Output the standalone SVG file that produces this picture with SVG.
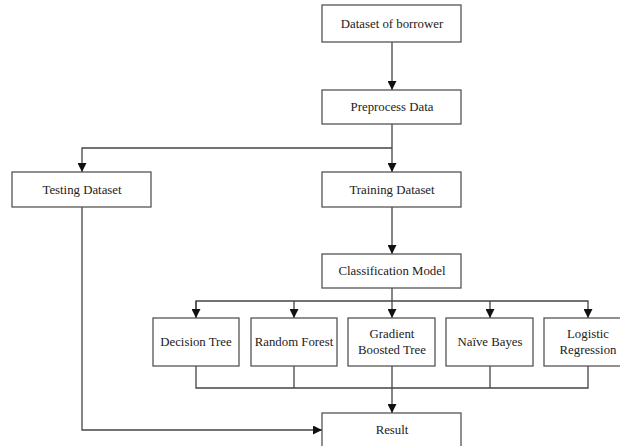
<svg xmlns="http://www.w3.org/2000/svg" width="620" height="446" viewBox="0 0 620 446">
<defs>
<marker id="ah" markerWidth="9" markerHeight="9" refX="9" refY="4.5" orient="auto" markerUnits="userSpaceOnUse">
<path d="M0,0 L9,4.5 L0,9 Z" fill="#111"/>
</marker>
<style>
.box{fill:#fff;stroke:#555;stroke-width:1.3}
.t{font-family:"Liberation Serif","Times New Roman",serif;font-size:12.8px;fill:#222;text-anchor:middle;dominant-baseline:central}
.c{fill:none;stroke:#444;stroke-width:1.3}
</style>
</defs>
<rect width="620" height="446" fill="#fff"/>
<g id="connectors">
<path class="c" d="M392,42 V90" marker-end="url(#ah)"/>
<path class="c" d="M392,124 V172" marker-end="url(#ah)"/>
<path class="c" d="M392,148 H82 V172" marker-end="url(#ah)"/>
<path class="c" d="M392,207 V254" marker-end="url(#ah)"/>
<path class="c" d="M392,288 V318" marker-end="url(#ah)"/>
<path class="c" d="M196,318 V301 H588 V318" marker-end="url(#ah)"/>
<path class="c" d="M196,301 V318" marker-end="url(#ah)"/>
<path class="c" d="M294,301 V318" marker-end="url(#ah)"/>
<path class="c" d="M490,301 V318" marker-end="url(#ah)"/>
<path class="c" d="M196,366 V388 H588 V366"/>
<path class="c" d="M294,366 V388"/>
<path class="c" d="M490,366 V388"/>
<path class="c" d="M392,366 V413" marker-end="url(#ah)"/>
<path class="c" d="M82,207 V430 H322" marker-end="url(#ah)"/>
</g>
<g id="n-dataset"><rect class="box" x="322" y="5" width="139" height="37"/><text class="t" x="392" y="24">Dataset of borrower</text></g>
<g id="n-preprocess"><rect class="box" x="322" y="90" width="139" height="34"/><text class="t" x="392" y="107">Preprocess Data</text></g>
<g id="n-testing"><rect class="box" x="12" y="172" width="139" height="35"/><text class="t" x="82" y="190">Testing Dataset</text></g>
<g id="n-training"><rect class="box" x="322" y="172" width="139" height="35"/><text class="t" x="392" y="190">Training Dataset</text></g>
<g id="n-classification"><rect class="box" x="322" y="254" width="139" height="34"/><text class="t" x="392" y="271">Classification Model</text></g>
<g id="n-dt"><rect class="box" x="153" y="318" width="86" height="48"/><text class="t" x="196" y="342">Decision Tree</text></g>
<g id="n-rf"><rect class="box" x="251" y="318" width="86" height="48"/><text class="t" x="294" y="342">Random Forest</text></g>
<g id="n-gbt"><rect class="box" x="348" y="318" width="87" height="48"/><text class="t" x="392" y="334">Gradient</text><text class="t" x="392" y="350">Boosted Tree</text></g>
<g id="n-nb"><rect class="box" x="446" y="318" width="87" height="48"/><text class="t" x="490" y="342">Naïve Bayes</text></g>
<g id="n-lr"><rect class="box" x="544" y="318" width="88" height="48"/><text class="t" x="588" y="334">Logistic</text><text class="t" x="588" y="350">Regression</text></g>
<g id="n-result"><rect class="box" x="322" y="413" width="139" height="40"/><text class="t" x="392" y="430">Result</text></g>
</svg>
